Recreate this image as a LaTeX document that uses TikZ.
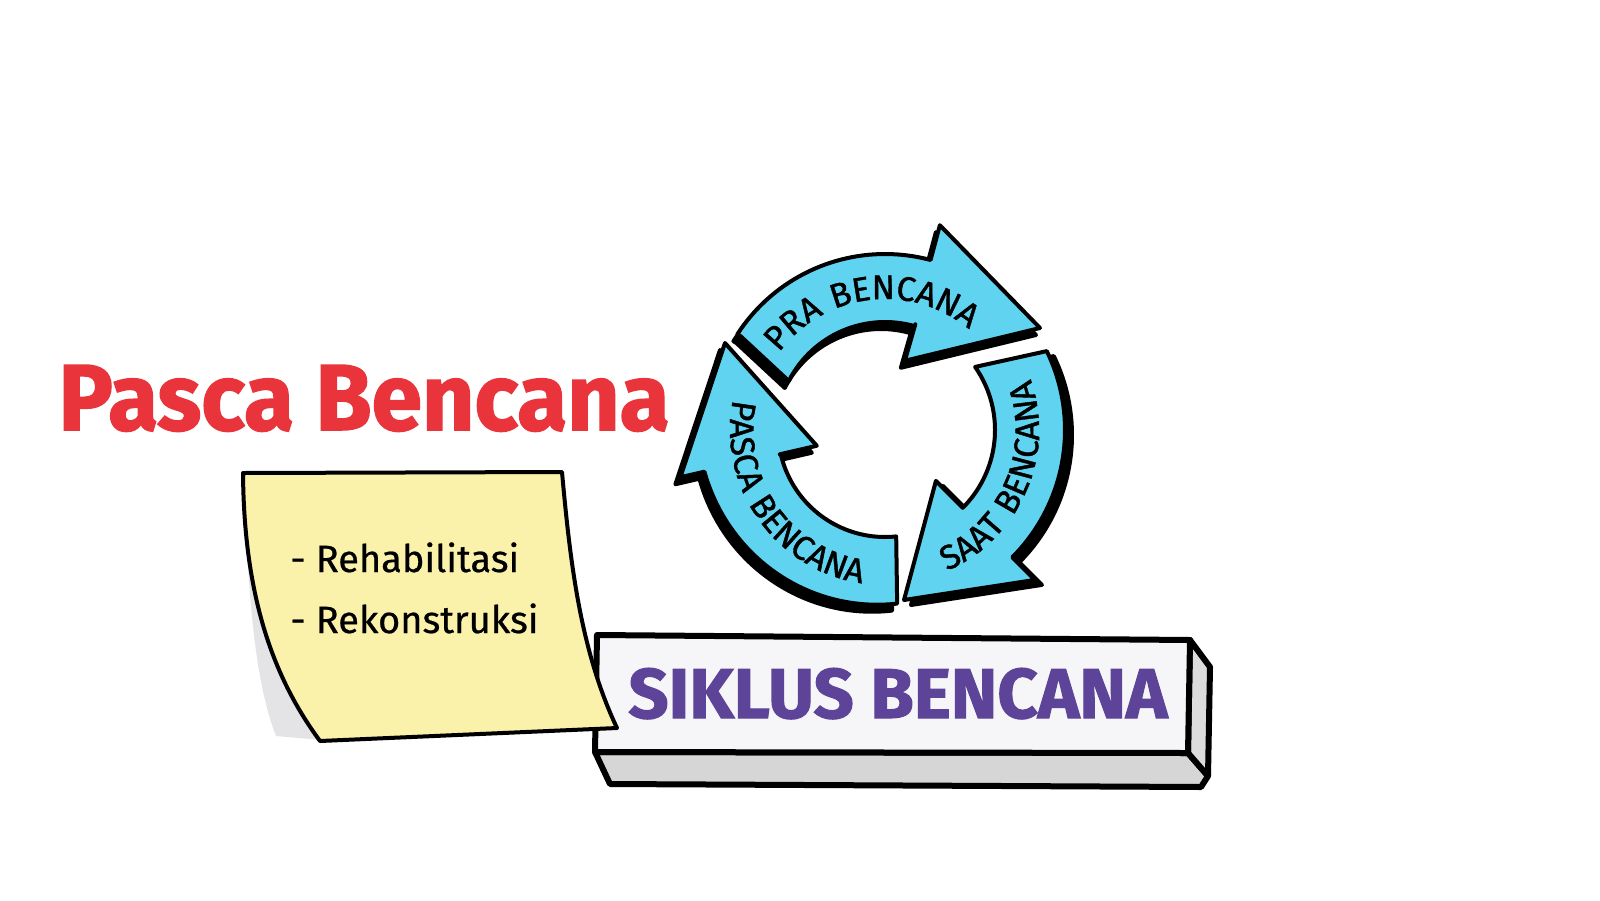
\documentclass[tikz,border=0pt]{standalone}
\usepackage{fontspec}
\setmainfont{Fira Sans}
\newfontfamily\cycfont{Fira Sans}[FakeBold=1.2,LetterSpace=7]
\newfontfamily\heavyfont{Fira Sans}[BoldFeatures={FakeBold=1.6}]
\newfontfamily\notefont{Fira Sans}[FakeBold=0.6]
\usetikzlibrary{decorations.text}
\definecolor{cyc}{RGB}{96,211,240}
\definecolor{notey}{RGB}{250,241,170}
\definecolor{redt}{RGB}{232,52,58}
\definecolor{purp}{RGB}{94,68,152}
\definecolor{boxface}{RGB}{246,246,248}
\definecolor{boxside}{RGB}{214,214,214}
\definecolor{noteshade}{RGB}{228,228,230}
\begin{document}
\begin{tikzpicture}[x=0.5pt,y=-0.5pt,
  cyclearrow/.style={fill=cyc,draw=black,line width=2pt,line join=round},
  cycshadow/.style={fill=black,draw=black,line width=2pt,line join=round},
  outl/.style={draw=black,line width=3pt,line join=round},
  notetext/.style={anchor=base west,inner sep=0pt,font=\notefont\fontsize{19}{21}\selectfont}]
\useasboundingbox (0,0) rectangle (1600,900);
\fill[white] (0,0) rectangle (1600,900);

% title
\node[anchor=base west,inner sep=0pt,text=redt] (title) at (58,430)
  {\resizebox{305.5pt}{32.5pt}{\heavyfont\bfseries Pasca Bencana}};

% 3D box
\path[outl,fill=boxside] (595,752) -- (1188,753) -- (1208,776) -- (1201,787) -- (610,784) -- cycle;
\path[outl,fill=boxside!85] (1190,640) -- (1210,667) -- (1208,776) -- (1188,753) -- cycle;
\path[outl,fill=boxface] (597,635) -- (1190,640) -- (1188,753) -- (595,752) -- cycle;
\node[anchor=base west,inner sep=0pt,text=purp] (siklus) at (628,718)
  {\resizebox{269.5pt}{25pt}{\heavyfont\bfseries SIKLUS BENCANA}};

% sticky note
\fill[noteshade] (246,520) .. controls (250,640) and (262,700) .. (276,736) -- (322,740) -- (300,600) -- cycle;
\path[draw=black,line width=2pt,line join=round,fill=notey]
  (243,473) -- (562,472) .. controls (570,560) and (580,650) .. (617,728)
  -- (320,741) .. controls (275,680) and (244,600) .. (243,473) -- cycle;
\node[notetext] (reh) at (290,572) {- Rehabilitasi};
\node[notetext] (rek) at (290,633) {- Rekonstruksi};

% cycle
\begin{scope}[shift={(885,430)}]
  % PRA
  \begin{scope}[shift={(-4,7)}]
    \path[cycshadow] (213:172) -- plot[domain=213:285,samples=40] (\x:176) -- (285:212) -- (155,-102)
      -- (286:72) -- (286:110) -- plot[domain=286:207,samples=40] (\x:108) -- cycle;
  \end{scope}
  \path[cyclearrow] (213:172) -- plot[domain=213:285,samples=40] (\x:176) -- (285:212) -- (155,-102)
    -- (286:72) -- (286:110) -- plot[domain=286:207,samples=40] (\x:108) -- cycle;
  % SAAT
  \begin{scope}[shift={(7,5)}]
    \path[cycshadow] (-26:180) -- plot[domain=-26:45,samples=40] (\x:180) -- (45:212) -- (19,170)
      -- (45:72) -- (45:110) -- plot[domain=45:-35,samples=40] (\x:110) -- cycle;
  \end{scope}
  \path[cyclearrow] (-26:180) -- plot[domain=-26:45,samples=40] (\x:180) -- (45:212) -- (19,170)
    -- (45:72) -- (45:110) -- plot[domain=45:-35,samples=40] (\x:110) -- cycle;
  % PASCA
  \begin{scope}[shift={(-5,7)}]
    \path[cycshadow] (86:174) -- plot[domain=86:167,samples=40] ({\x}:{174+0.14*(\x-86)}) -- (167:210) -- (-160,-87)
      -- (167:70) -- (167:108) -- plot[domain=167:84,samples=40] (\x:107) -- cycle;
  \end{scope}
  \path[cyclearrow] (86:174) -- plot[domain=86:167,samples=40] ({\x}:{174+0.14*(\x-86)}) -- (167:210) -- (-160,-87)
    -- (167:70) -- (167:108) -- plot[domain=167:84,samples=40] (\x:107) -- cycle;

  % texts
  \path[decorate,decoration={text along path,text align=center,
      text={|\cycfont\fontsize{17}{17}\selectfont|PRA BENCANA}}]
    plot[domain=198:328,samples=60] (\x:131);
  \path[decorate,decoration={text along path,text align=center,
      text={|\cycfont\fontsize{17}{17}\selectfont|SAAT BENCANA}}]
    plot[domain=88:-41,samples=60] (\x:154);
  \path[decorate,decoration={text along path,text align=center,
      text={|\cycfont\fontsize{17}{17}\selectfont|PASCA BENCANA}}]
    plot[domain=209:81,samples=60] (\x:155);
\end{scope}
\end{tikzpicture}
\end{document}
